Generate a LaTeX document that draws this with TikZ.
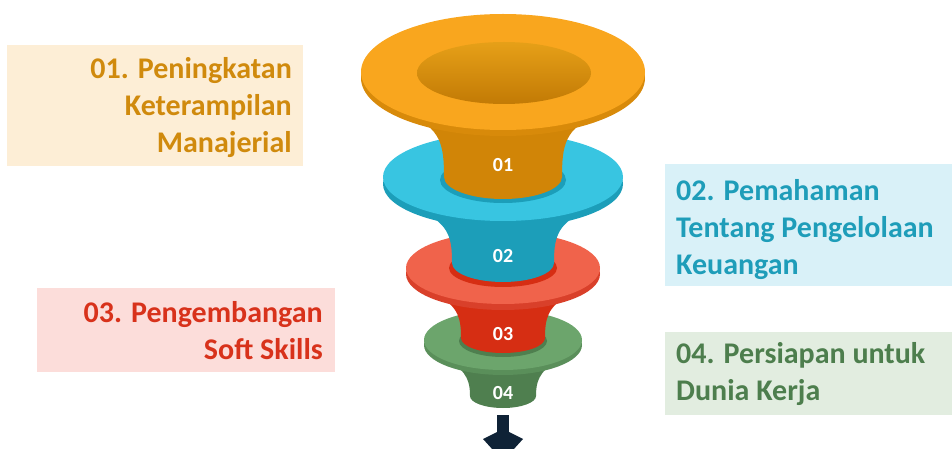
\documentclass[tikz,border=0pt]{standalone}
\usepackage{fontspec}
\setmainfont{Carlito}
\usetikzlibrary{arrows.meta}

\definecolor{orangeTop}{HTML}{F9A61E}
\definecolor{orangeEdge}{HTML}{D88A0A}
\definecolor{orangeStem}{HTML}{D18507}
\definecolor{orangeIn1}{HTML}{E6A018}
\definecolor{orangeIn2}{HTML}{C27A05}
\definecolor{blueTop}{HTML}{38C5E1}
\definecolor{blueDark}{HTML}{1C9EB9}
\definecolor{redTop}{HTML}{F0634B}
\definecolor{redEdge}{HTML}{D9402A}
\definecolor{redDark}{HTML}{D62E13}
\definecolor{greenTop}{HTML}{6CA56C}
\definecolor{greenEdge}{HTML}{5A8F5A}
\definecolor{greenDark}{HTML}{4F7F4F}
\definecolor{navy}{HTML}{0F2236}
\definecolor{orangeText}{HTML}{D08A0D}
\definecolor{blueText}{HTML}{1E9DB9}
\definecolor{redText}{HTML}{D8321B}
\definecolor{greenText}{HTML}{4D7E4D}
\definecolor{orangeFill}{HTML}{FDEED6}
\definecolor{blueFill}{HTML}{D9F1F8}
\definecolor{redFill}{HTML}{FCDDDA}
\definecolor{greenFill}{HTML}{E2EDE0}

\begin{document}
\begin{tikzpicture}[x=1pt,y=-1pt,
	topic/.style={font=\fontsize{30}{37}\selectfont\bfseries, inner sep=0pt},
	num/.style={font=\fontsize{20}{24}\selectfont\bfseries, text=white, inner sep=0pt}]
	\useasboundingbox (0,0) rectangle (952,449);

	% text boxes
	\fill[orangeFill] (7,45) rectangle (303,166);
	\fill[blueFill] (665,164) rectangle (952,286);
	\fill[redFill] (37,288) rectangle (335,372);
	\fill[greenFill] (665,332) rectangle (952,415);

	\node[topic, text=orangeText, align=right, anchor=north east] (topic-01) at (292,57) {01. Peningkatan\\Keterampilan\\Manajerial};
	\node[topic, text=blueText, align=left, anchor=north west] (topic-02) at (676,179) {02. Pemahaman\\Tentang Pengelolaan\\Keuangan};
	\node[topic, text=redText, align=right, anchor=north east] (topic-03) at (323,301) {03. Pengembangan\\Soft Skills};
	\node[topic, text=greenText, align=left, anchor=north west] (topic-04) at (676,342) {04. Persiapan untuk\\Dunia Kerja};

	% level 04
	\fill[greenDark] (448,360) .. controls (468,372) and (470,383) .. (470,396) arc[start angle=180,end angle=0,x radius=33,y radius=12] .. controls (536,383) and (538,372) .. (558,360) -- cycle;
	\fill[greenEdge] (503,345) ellipse[x radius=79,y radius=30];
	\fill[greenTop] (503,340) ellipse[x radius=79,y radius=30];
	\fill[greenDark] (503,341) ellipse[x radius=44,y radius=16];

	% level 03
	\fill[redDark] (437,296) .. controls (459,306) and (461,320) .. (461,338) arc[start angle=180,end angle=0,x radius=42,y radius=15] .. controls (545,320) and (547,306) .. (569,296) -- cycle;
	\fill[redEdge] (503,274) ellipse[x radius=97,y radius=36];
	\fill[redTop] (503,268) ellipse[x radius=97,y radius=36];
	\fill[redDark] (503,268) ellipse[x radius=54,y radius=19];

	% level 02
	\fill[blueDark] (423,212) .. controls (450,225) and (452,240) .. (452,263) arc[start angle=180,end angle=0,x radius=51,y radius=19] .. controls (554,240) and (556,225) .. (583,212) -- cycle;
	\fill[blueDark] (503,184) ellipse[x radius=120,y radius=44];
	\fill[blueTop] (503,177) ellipse[x radius=120,y radius=44];
	\fill[blueDark] (503,180) ellipse[x radius=63,y radius=23];

	% level 01
	\fill[orangeStem] (408,115) .. controls (441,128) and (444,145) .. (444,177) arc[start angle=180,end angle=0,x radius=59,y radius=22] .. controls (562,145) and (565,128) .. (598,115) -- cycle;
	\fill[orangeEdge] (503,78) ellipse[x radius=142,y radius=58];
	\fill[orangeTop] (503,72) ellipse[x radius=142,y radius=58];
	\shade[top color=orangeIn1, bottom color=orangeIn2] (504,73) ellipse[x radius=87,y radius=31];

	\node[num] (num-01) at (503,165) {01};
	\node[num] (num-02) at (503,256.5) {02};
	\node[num] (num-03) at (503,334) {03};
	\node[num] (num-04) at (503,393) {04};

	% arrow out of the funnel
	\coordinate (funnel-end) at (503,421.5);
	\coordinate (arrow-tip) at (503,461);
	\draw[navy, line width=12.5pt, line cap=rect, -{Kite[length=32pt,width=40pt,inset=10pt,line width=0pt]}] (funnel-end) -- (arrow-tip);
\end{tikzpicture}
\end{document}
